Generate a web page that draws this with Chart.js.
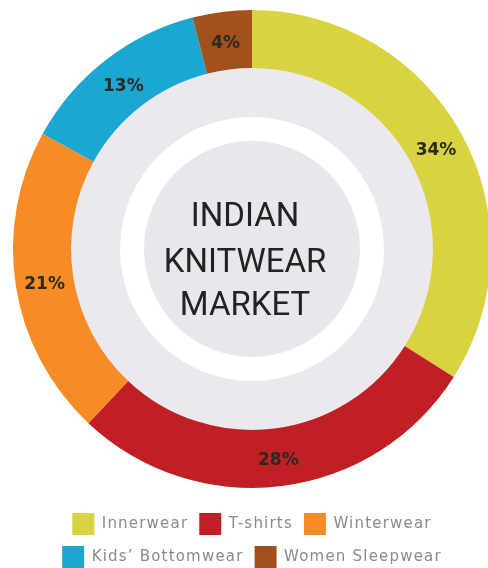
<!DOCTYPE html>
<html>
<head>
<meta charset="utf-8">
<script src="https://cdn.jsdelivr.net/npm/chart.js@4/dist/chart.umd.min.js"></script>
<style>
  html, body { margin: 0; padding: 0; background: #ffffff; }
  #wrap { position: relative; width: 488px; height: 568px; overflow: hidden; }
  #c { position: absolute; left: 0; top: -4px; }
</style>
</head>
<body>
<div id="wrap"><canvas id="c" width="504" height="582"></canvas></div>
<script>
// Market share of the Indian knitwear segments (percent)
const categories = ['Innerwear', 'T-shirts', 'Winterwear', 'Kids’ Bottomwear', 'Women Sleepwear'];
const shares = [34, 28, 21, 13, 4];
const sliceColors = ['#d9d342', '#c01f26', '#f78c26', '#1ba7d1', '#a2511d'];
const centerTitle = ['INDIAN', 'KNITWEAR', 'MARKET'];

// Letter tracking used for the legend text
const TRACKING = '1.2px';

const tracking = {
  id: 'tracking',
  beforeUpdate(chart) { chart.ctx.letterSpacing = TRACKING; },
  beforeLayout(chart) { chart.ctx.letterSpacing = TRACKING; },
  beforeDraw(chart) { chart.ctx.letterSpacing = TRACKING; }
};

// Grey disc, white ring and grey annulus inside the doughnut hole
const innerRings = {
  id: 'innerRings',
  beforeDatasetsDraw(chart) {
    const arc = chart.getDatasetMeta(0).data[0];
    if (!arc) return;
    const { x, y, innerRadius } = arc.getProps(['x', 'y', 'innerRadius'], true);
    const ctx = chart.ctx;
    const disc = (r, color) => {
      ctx.beginPath();
      ctx.arc(x, y, r, 0, Math.PI * 2);
      ctx.fillStyle = color;
      ctx.fill();
    };
    ctx.save();
    disc(innerRadius + 1, '#ebe9ee');
    disc(132, '#ffffff');
    disc(108, '#e9e7ec');
    ctx.restore();
  }
};

// Percent labels on the slices and the title in the middle
const sliceLabels = {
  id: 'sliceLabels',
  afterDatasetsDraw(chart) {
    const ctx = chart.ctx;
    const meta = chart.getDatasetMeta(0);
    const values = chart.data.datasets[0].data;
    ctx.save();
    ctx.letterSpacing = '0px';
    ctx.font = 'bold 17px "DejaVu Sans"';
    ctx.fillStyle = '#2b2a22';
    ctx.textAlign = 'center';
    ctx.textBaseline = 'middle';
    meta.data.forEach((arc, i) => {
      const p = arc.getCenterPoint();
      ctx.fillText(values[i] + '%', p.x, p.y + 3);
    });

    const { x, y } = meta.data[0];
    ctx.font = '33px Roboto';
    ctx.fillStyle = '#222222';
    ctx.textBaseline = 'alphabetic';
    const offsets = [-23, 23, 66];
    centerTitle.forEach((line, i) => ctx.fillText(line, x - 7, y + offsets[i]));
    ctx.restore();
  }
};

new Chart(document.getElementById('c'), {
  type: 'doughnut',
  data: {
    labels: categories,
    datasets: [{
      data: shares,
      backgroundColor: sliceColors,
      borderWidth: 0
    }]
  },
  options: {
    responsive: false,
    animation: false,
    radius: 239,
    cutout: '75.7%',
    layout: { padding: 0 },
    plugins: {
      legend: {
        position: 'bottom',
        labels: {
          boxWidth: 22,
          boxHeight: 22,
          padding: 11,
          color: '#8a8a8a',
          font: { family: '"DejaVu Sans"', size: 15 }
        }
      },
      tooltip: { enabled: false }
    }
  },
  plugins: [tracking, innerRings, sliceLabels]
});
</script>
</body>
</html>
